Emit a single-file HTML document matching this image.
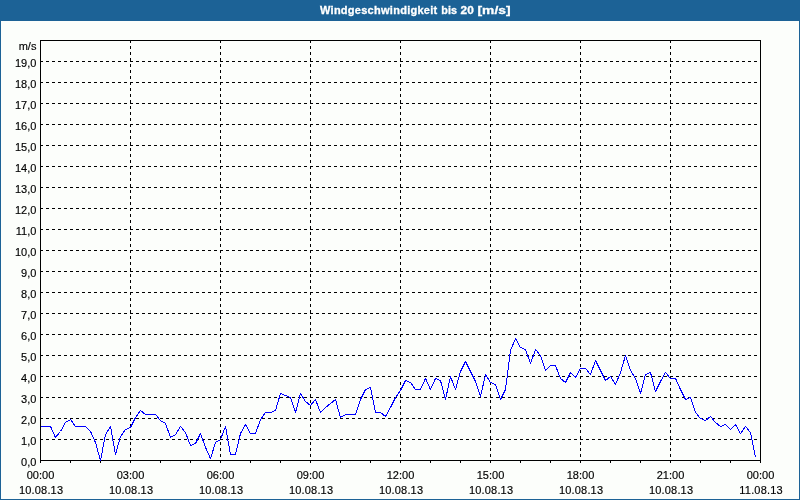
<!DOCTYPE html>
<html><head><meta charset="utf-8"><title>Windgeschwindigkeit bis 20 [m/s]</title>
<style>
html,body{margin:0;padding:0;background:#fcfefb;}
body{width:800px;height:500px;overflow:hidden;position:relative;font-family:"Liberation Sans",sans-serif;}
svg{position:absolute;left:0;top:0;display:block}
text{font-family:"Liberation Sans",sans-serif;font-size:11px;fill:#000;stroke:#000;stroke-width:0.15px}
.d{letter-spacing:0.18px}
.t{font-weight:bold;fill:#fff;font-size:11px;stroke:#fff;stroke-width:0.3px}
</style></head><body>
<svg width="800" height="500" viewBox="0 0 800 500">
<rect x="0" y="0" width="800" height="500" fill="#fcfefb"/>
<rect x="0" y="0" width="800" height="21" fill="#1c6296"/>
<rect x="0" y="0" width="1" height="500" fill="#1c6296"/>
<rect x="799" y="0" width="1" height="500" fill="#1c6296"/>
<rect x="0" y="499" width="800" height="1" fill="#1c6296"/>
<text class="t" y="13.5"><tspan x="320" textLength="117.2" lengthAdjust="spacing">Windgeschwindigkeit</tspan> <tspan x="441.3" textLength="15.6" lengthAdjust="spacingAndGlyphs">bis</tspan> <tspan x="460.6" textLength="13.2" lengthAdjust="spacingAndGlyphs">20</tspan> <tspan x="477.5" textLength="33" lengthAdjust="spacingAndGlyphs">[m/s]</tspan></text>
<g shape-rendering="crispEdges" stroke="#000" stroke-width="1" fill="none">

<line x1="40" y1="439.5" x2="760" y2="439.5" stroke-dasharray="3,3"/>
<line x1="40" y1="418.5" x2="760" y2="418.5" stroke-dasharray="3,3"/>
<line x1="40" y1="397.5" x2="760" y2="397.5" stroke-dasharray="3,3"/>
<line x1="40" y1="376.5" x2="760" y2="376.5" stroke-dasharray="3,3"/>
<line x1="40" y1="355.5" x2="760" y2="355.5" stroke-dasharray="3,3"/>
<line x1="40" y1="334.5" x2="760" y2="334.5" stroke-dasharray="3,3"/>
<line x1="40" y1="313.5" x2="760" y2="313.5" stroke-dasharray="3,3"/>
<line x1="40" y1="292.5" x2="760" y2="292.5" stroke-dasharray="3,3"/>
<line x1="40" y1="271.5" x2="760" y2="271.5" stroke-dasharray="3,3"/>
<line x1="40" y1="250.5" x2="760" y2="250.5" stroke-dasharray="3,3"/>
<line x1="40" y1="229.5" x2="760" y2="229.5" stroke-dasharray="3,3"/>
<line x1="40" y1="208.5" x2="760" y2="208.5" stroke-dasharray="3,3"/>
<line x1="40" y1="187.5" x2="760" y2="187.5" stroke-dasharray="3,3"/>
<line x1="40" y1="166.5" x2="760" y2="166.5" stroke-dasharray="3,3"/>
<line x1="40" y1="145.5" x2="760" y2="145.5" stroke-dasharray="3,3"/>
<line x1="40" y1="124.5" x2="760" y2="124.5" stroke-dasharray="3,3"/>
<line x1="40" y1="103.5" x2="760" y2="103.5" stroke-dasharray="3,3"/>
<line x1="40" y1="82.5" x2="760" y2="82.5" stroke-dasharray="3,3"/>
<line x1="40" y1="61.5" x2="760" y2="61.5" stroke-dasharray="3,3"/>
<line x1="130.5" y1="40" x2="130.5" y2="460" stroke-dasharray="3,3"/>
<line x1="220.5" y1="40" x2="220.5" y2="460" stroke-dasharray="3,3"/>
<line x1="310.5" y1="40" x2="310.5" y2="460" stroke-dasharray="3,3"/>
<line x1="400.5" y1="40" x2="400.5" y2="460" stroke-dasharray="3,3"/>
<line x1="490.5" y1="40" x2="490.5" y2="460" stroke-dasharray="3,3"/>
<line x1="580.5" y1="40" x2="580.5" y2="460" stroke-dasharray="3,3"/>
<line x1="670.5" y1="40" x2="670.5" y2="460" stroke-dasharray="3,3"/>
<rect x="40.5" y="40.5" width="720" height="420"/>
<line x1="40.5" y1="461" x2="40.5" y2="463"/>
<line x1="70.5" y1="461" x2="70.5" y2="463"/>
<line x1="100.5" y1="461" x2="100.5" y2="463"/>
<line x1="130.5" y1="461" x2="130.5" y2="463"/>
<line x1="160.5" y1="461" x2="160.5" y2="463"/>
<line x1="190.5" y1="461" x2="190.5" y2="463"/>
<line x1="220.5" y1="461" x2="220.5" y2="463"/>
<line x1="250.5" y1="461" x2="250.5" y2="463"/>
<line x1="280.5" y1="461" x2="280.5" y2="463"/>
<line x1="310.5" y1="461" x2="310.5" y2="463"/>
<line x1="340.5" y1="461" x2="340.5" y2="463"/>
<line x1="370.5" y1="461" x2="370.5" y2="463"/>
<line x1="400.5" y1="461" x2="400.5" y2="463"/>
<line x1="430.5" y1="461" x2="430.5" y2="463"/>
<line x1="460.5" y1="461" x2="460.5" y2="463"/>
<line x1="490.5" y1="461" x2="490.5" y2="463"/>
<line x1="520.5" y1="461" x2="520.5" y2="463"/>
<line x1="550.5" y1="461" x2="550.5" y2="463"/>
<line x1="580.5" y1="461" x2="580.5" y2="463"/>
<line x1="610.5" y1="461" x2="610.5" y2="463"/>
<line x1="640.5" y1="461" x2="640.5" y2="463"/>
<line x1="670.5" y1="461" x2="670.5" y2="463"/>
<line x1="700.5" y1="461" x2="700.5" y2="463"/>
<line x1="730.5" y1="461" x2="730.5" y2="463"/>
<line x1="760.5" y1="461" x2="760.5" y2="463"/>
</g>
<polyline shape-rendering="crispEdges" stroke-linejoin="bevel" fill="none" stroke="#0000ff" stroke-width="1" points="40.5,426.5 45.5,426.5 50.5,426.5 55.5,437.5 60.5,431.5 65.5,422.5 70.5,419.5 75.5,426.5 80.5,426.5 85.5,426.5 90.5,431.5 95.5,442.5 100.5,460.5 105.5,434.5 110.5,426.5 115.5,454.5 120.5,436.5 125.5,429.5 130.5,427.5 135.5,417.5 140.5,410.5 145.5,414.5 150.5,414.5 155.5,414.5 160.5,420.5 165.5,423.5 170.5,437.5 175.5,434.5 180.5,426.5 185.5,432.5 190.5,445.5 195.5,443.5 200.5,433.5 205.5,447.5 210.5,458.5 215.5,442.5 220.5,439.5 225.5,426.5 230.5,454.5 235.5,454.5 240.5,433.5 245.5,424.5 250.5,433.5 255.5,433.5 260.5,419.5 265.5,412.5 270.5,412.5 275.5,410.5 280.5,393.5 285.5,395.5 290.5,397.5 295.5,412.5 300.5,393.5 305.5,401.5 310.5,405.5 315.5,399.5 320.5,412.5 325.5,407.5 330.5,403.5 335.5,399.5 340.5,417.5 345.5,414.5 350.5,414.5 355.5,414.5 360.5,399.5 365.5,389.5 370.5,387.5 375.5,412.5 380.5,412.5 385.5,416.5 390.5,407.5 395.5,397.5 400.5,390.5 405.5,380.5 410.5,382.5 415.5,389.5 420.5,389.5 425.5,378.5 430.5,389.5 435.5,378.5 440.5,380.5 445.5,399.5 450.5,376.5 455.5,389.5 460.5,371.5 465.5,361.5 470.5,371.5 475.5,381.5 480.5,396.5 485.5,374.5 490.5,382.5 495.5,384.5 500.5,399.5 505.5,389.5 510.5,350.5 515.5,338.5 520.5,347.5 525.5,349.5 530.5,363.5 535.5,349.5 540.5,355.5 545.5,370.5 550.5,365.5 555.5,365.5 560.5,378.5 565.5,382.5 570.5,372.5 575.5,377.5 580.5,368.5 585.5,368.5 590.5,374.5 595.5,360.5 600.5,370.5 605.5,380.5 610.5,376.5 615.5,384.5 620.5,372.5 625.5,355.5 630.5,370.5 635.5,378.5 640.5,393.5 645.5,374.5 650.5,372.5 655.5,391.5 660.5,381.5 665.5,372.5 670.5,378.5 675.5,378.5 680.5,389.5 685.5,399.5 690.5,397.5 695.5,412.5 700.5,418.5 705.5,420.5 710.5,416.5 715.5,422.5 720.5,426.5 725.5,424.5 730.5,429.5 735.5,424.5 740.5,433.5 745.5,426.5 750.5,432.5 755.5,457.5"/>
<text x="36.4" y="50" text-anchor="end">m/s</text>
<text x="36.4" y="466" text-anchor="end">0,0</text>
<text x="36.4" y="445" text-anchor="end">1,0</text>
<text x="36.4" y="424" text-anchor="end">2,0</text>
<text x="36.4" y="403" text-anchor="end">3,0</text>
<text x="36.4" y="382" text-anchor="end">4,0</text>
<text x="36.4" y="361" text-anchor="end">5,0</text>
<text x="36.4" y="340" text-anchor="end">6,0</text>
<text x="36.4" y="319" text-anchor="end">7,0</text>
<text x="36.4" y="298" text-anchor="end">8,0</text>
<text x="36.4" y="277" text-anchor="end">9,0</text>
<text x="36.4" y="256" text-anchor="end">10,0</text>
<text x="36.4" y="235" text-anchor="end">11,0</text>
<text x="36.4" y="214" text-anchor="end">12,0</text>
<text x="36.4" y="193" text-anchor="end">13,0</text>
<text x="36.4" y="172" text-anchor="end">14,0</text>
<text x="36.4" y="151" text-anchor="end">15,0</text>
<text x="36.4" y="130" text-anchor="end">16,0</text>
<text x="36.4" y="109" text-anchor="end">17,0</text>
<text x="36.4" y="88" text-anchor="end">18,0</text>
<text x="36.4" y="67" text-anchor="end">19,0</text>
<text x="40.5" y="479" text-anchor="middle">00:00</text>
<text x="41.1" class="d" y="494" text-anchor="middle">10.08.13</text>
<text x="130.5" y="479" text-anchor="middle">03:00</text>
<text x="131.1" class="d" y="494" text-anchor="middle">10.08.13</text>
<text x="220.5" y="479" text-anchor="middle">06:00</text>
<text x="221.1" class="d" y="494" text-anchor="middle">10.08.13</text>
<text x="310.5" y="479" text-anchor="middle">09:00</text>
<text x="311.1" class="d" y="494" text-anchor="middle">10.08.13</text>
<text x="400.5" y="479" text-anchor="middle">12:00</text>
<text x="401.1" class="d" y="494" text-anchor="middle">10.08.13</text>
<text x="490.5" y="479" text-anchor="middle">15:00</text>
<text x="491.1" class="d" y="494" text-anchor="middle">10.08.13</text>
<text x="580.5" y="479" text-anchor="middle">18:00</text>
<text x="581.1" class="d" y="494" text-anchor="middle">10.08.13</text>
<text x="670.5" y="479" text-anchor="middle">21:00</text>
<text x="671.1" class="d" y="494" text-anchor="middle">10.08.13</text>
<text x="760.5" y="479" text-anchor="middle">00:00</text>
<text x="761.1" class="d" y="494" text-anchor="middle">11.08.13</text>
</svg></body></html>
